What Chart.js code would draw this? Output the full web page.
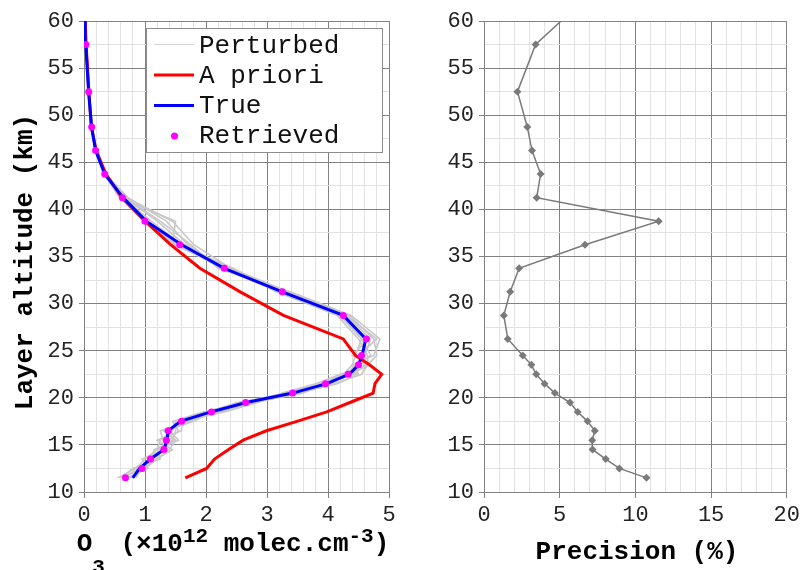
<!DOCTYPE html>
<html><head><meta charset="utf-8">
<script src="https://cdn.jsdelivr.net/npm/chart.js@4.4.1/dist/chart.umd.min.js"></script>
<style>
html,body{margin:0;padding:0;background:#fff;}
#wrap{position:relative;width:804px;height:570px;overflow:hidden;background:#fff;}
#c1{position:absolute;left:0;top:0;}
#c2{position:absolute;left:402px;top:0;}
</style></head><body>
<div id="wrap"><canvas id="c1" width="402" height="570"></canvas><canvas id="c2" width="402" height="570"></canvas></div>
<script>
// Layer altitudes (km), bottom to top; last entry is the top boundary (60 km)
const altitudes = [11.5,12.5,13.5,14.5,15.5,16.5,17.5,18.5,19.5,20.5,21.5,22.5,23.5,24.5,26.25,28.75,31.25,33.75,36.25,38.75,41.25,43.75,46.25,48.75,52.5,57.5,60];
// O3 (x10^12 molec.cm^-3)
const trueO3     = [0.80,0.91,1.09,1.31,1.36,1.38,1.58,2.08,2.66,3.42,3.98,4.35,4.50,4.56,4.62,4.25,3.25,2.30,1.60,1.02,0.64,0.34,0.19,0.125,0.075,0.03,0.02];
const aprioriO3  = [1.66,2.01,2.14,2.37,2.61,2.99,3.49,3.98,4.36,4.74,4.77,4.88,4.68,4.45,4.25,3.27,2.56,1.90,1.42,1.00,0.62,0.36,0.20,0.12,0.08,0.035,0.02];
const retrievedO3 = [0.68,0.95,1.09,1.31,1.35,1.38,1.60,2.09,2.65,3.42,3.96,4.33,4.50,4.55,4.63,4.25,3.25,2.30,1.57,1.00,0.63,0.34,0.19,0.126,0.077,0.03];
const perturbed1 = [0.55,0.85,1.00,1.20,1.25,1.45,1.50,2.00,2.60,3.30,3.90,4.25,4.40,4.45,4.55,4.20,3.20,2.25,1.55,1.00,0.62,0.34,0.19,0.125,0.075,0.03,0.02];
const perturbed2 = [0.75,1.00,1.20,1.40,1.50,1.30,1.70,2.20,2.80,3.55,4.10,4.55,4.65,4.80,4.75,4.35,3.35,2.40,1.80,1.45,0.70,0.35,0.19,0.125,0.075,0.03,0.02];
const perturbed3 = [0.65,0.90,1.15,1.25,1.45,1.50,1.55,2.15,2.70,3.45,3.95,4.40,4.60,4.50,4.80,4.30,3.30,2.35,1.65,1.20,0.66,0.34,0.19,0.125,0.075,0.03,0.02];
const perturbed4 = [0.85,0.95,1.05,1.35,1.30,1.25,1.75,2.00,2.55,3.35,4.05,4.30,4.45,4.70,4.55,4.20,3.20,2.30,1.50,0.98,0.60,0.33,0.19,0.125,0.075,0.03,0.02];
const perturbed5 = [0.60,0.80,1.25,1.20,1.55,1.40,1.65,2.25,2.75,3.60,3.85,4.45,4.55,4.60,4.70,4.30,3.30,2.25,1.70,1.35,0.72,0.35,0.19,0.125,0.075,0.03,0.02];
const perturbed6 = [0.70,1.05,0.95,1.30,1.40,1.55,1.45,1.95,2.65,3.40,4.00,4.35,4.70,4.40,4.65,4.25,3.25,2.40,1.60,1.10,0.64,0.34,0.19,0.125,0.075,0.03,0.02];
const perturbed7 = [0.78,0.88,1.10,1.15,1.50,1.35,1.80,2.10,2.50,3.50,4.15,4.50,4.40,4.75,4.85,4.38,3.38,2.20,1.75,1.25,0.68,0.35,0.19,0.125,0.075,0.03,0.02];
const perturbed8 = [0.58,0.98,1.18,1.45,1.20,1.60,1.60,2.30,2.85,3.25,3.80,4.20,4.65,4.65,4.50,4.15,3.15,2.45,1.45,1.50,0.58,0.33,0.19,0.125,0.075,0.03,0.02];
// Precision (%)
const precision = [10.73,8.94,8.04,7.17,7.15,7.32,6.84,6.19,5.68,4.68,4.00,3.45,3.13,2.56,1.57,1.31,1.73,2.32,6.67,11.54,3.48,3.74,3.17,2.86,2.21,3.41,5.09];
// Axis ticks
const o3Ticks = [0,1,2,3,4,5];
const precisionTicks = [0,5,10,15,20];
const altitudeTicks = [10,15,20,25,30,35,40,45,50,55,60];
const legendLabels = ['Perturbed','A priori','True','Retrieved'];

const FONT = "'Liberation Mono', 'DejaVu Sans Mono', monospace";
const MAJOR = '#828282', MINOR = '#e2e2e2';
const pts = (xs) => xs.map((x,i) => ({x:x, y:altitudes[i]}));
const isIn = (v, arr) => arr.some(a => Math.abs(a - v) < 1e-6);

function xScale(min, max, step, ticksArr) {
  return {
    type:'linear', min:min, max:max,
    ticks:{stepSize:step, autoSkip:false, maxRotation:0, padding:4, color:'#222',
      font:{family:FONT, size:22},
      callback:(v)=> isIn(v,ticksArr) ? String(Math.round(v)) : ''},
    grid:{color:(c)=> isIn(c.tick.value,ticksArr) ? MAJOR : MINOR, lineWidth:1,
      tickLength:6, tickColor:(c)=> isIn(c.tick.value,ticksArr) ? MAJOR : 'rgba(0,0,0,0)'},
    border:{color:MAJOR, width:1},
    afterFit:(s)=>{ s.height = 78; }
  };
}
function yScale(width) {
  return {
    type:'linear', min:10, max:60,
    ticks:{stepSize:2.5, autoSkip:false, padding:5, color:'#222',
      font:{family:FONT, size:22},
      callback:(v)=> isIn(v,altitudeTicks) ? String(Math.round(v)) : ''},
    grid:{color:(c)=> isIn(c.tick.value,altitudeTicks) ? MAJOR : MINOR, lineWidth:1,
      tickLength:5, tickColor:(c)=> isIn(c.tick.value,altitudeTicks) ? MAJOR : 'rgba(0,0,0,0)'},
    border:{color:MAJOR, width:1},
    afterFit:(s)=>{ s.width = width; }
  };
}

function drawRich(ctx, pieces, cx, base) {
  let total = 0;
  pieces.forEach(p => { ctx.font = p.f; p.w = ctx.measureText(p.t).width; total += p.w; });
  let x = cx - total/2;
  ctx.textAlign = 'left'; ctx.textBaseline = 'alphabetic';
  pieces.forEach(p => { ctx.font = p.f; ctx.fillText(p.t, x, base + (p.dy||0)); x += p.w; });
}

const BIG = "bold 26px " + FONT, SMALL = "bold 21px " + FONT;

const leftDecor = {
  id:'leftDecor',
  afterDraw(chart){
    const ctx = chart.ctx; ctx.save();
    // legend
    ctx.fillStyle = '#fff'; ctx.fillRect(146,28,236,124);
    ctx.strokeStyle = '#8c8c8c'; ctx.lineWidth = 1; ctx.strokeRect(146.5,28.5,236,124);
    const rows = [44.5, 75, 105.5, 136];
    const bases = [52.5, 82.5, 112.5, 142.5];
    ctx.lineWidth = 1; ctx.strokeStyle = '#d4d4d4';
    ctx.beginPath(); ctx.moveTo(154,rows[0]); ctx.lineTo(194,rows[0]); ctx.stroke();
    ctx.lineWidth = 3; ctx.strokeStyle = '#ff0000';
    ctx.beginPath(); ctx.moveTo(154,rows[1]); ctx.lineTo(194,rows[1]); ctx.stroke();
    ctx.strokeStyle = '#0000ff';
    ctx.beginPath(); ctx.moveTo(154,rows[2]); ctx.lineTo(194,rows[2]); ctx.stroke();
    ctx.fillStyle = '#ff00ff';
    ctx.beginPath(); ctx.arc(174.5,rows[3],3.5,0,Math.PI*2); ctx.fill();
    ctx.fillStyle = '#111'; ctx.font = "26px " + FONT; ctx.textAlign='left'; ctx.textBaseline='alphabetic';
    legendLabels.forEach((t,i)=> ctx.fillText(t, 199, bases[i]));
    // y title
    ctx.save(); ctx.translate(25, 262); ctx.rotate(-Math.PI/2);
    ctx.font = BIG; ctx.textAlign='center'; ctx.textBaseline='middle'; ctx.fillStyle='#000';
    ctx.fillText('Layer altitude (km)', 0, 0); ctx.restore();
    // x title
    ctx.fillStyle = '#000';
    drawRich(ctx, [
      {t:'O', f:BIG}, {t:'3', f:SMALL, dy:22}, {t:' (×10', f:BIG}, {t:'12', f:SMALL, dy:-9},
      {t:' molec.cm', f:BIG}, {t:'-3', f:SMALL, dy:-9}, {t:')', f:BIG}
    ], 233, 551);
    ctx.restore();
  }
};
const rightDecor = {
  id:'rightDecor',
  afterDraw(chart){
    const ctx = chart.ctx; ctx.save();
    ctx.fillStyle='#000'; ctx.font = BIG; ctx.textAlign='center'; ctx.textBaseline='alphabetic';
    ctx.fillText('Precision (%)', 235, 559);
    ctx.restore();
  }
};

const pertStyle = {showLine:true, borderColor:'#c8c8c8', borderWidth:1.6, pointRadius:0, fill:false};
new Chart(document.getElementById('c1'), {
  type:'scatter',
  data:{datasets:[
    {label:'Retrieved', data:retrievedO3.map((x,i)=>({x:x,y:altitudes[i]})), showLine:false, pointRadius:3.5, pointBackgroundColor:'#ff00ff', pointBorderWidth:0},
    {label:'True', data:pts(trueO3), showLine:true, borderColor:'#0000ff', borderWidth:3, pointRadius:0},
    {label:'A priori', data:pts(aprioriO3), showLine:true, borderColor:'#ff0000', borderWidth:3, pointRadius:0},
    Object.assign({label:'Perturbed', data:pts(perturbed1)}, pertStyle),
    Object.assign({label:'Perturbed 2', data:pts(perturbed2)}, pertStyle),
    Object.assign({label:'Perturbed 3', data:pts(perturbed3)}, pertStyle),
    Object.assign({label:'Perturbed 4', data:pts(perturbed4)}, pertStyle),
    Object.assign({label:'Perturbed 5', data:pts(perturbed5)}, pertStyle),
    Object.assign({label:'Perturbed 6', data:pts(perturbed6)}, pertStyle),
    Object.assign({label:'Perturbed 7', data:pts(perturbed7)}, pertStyle),
    Object.assign({label:'Perturbed 8', data:pts(perturbed8)}, pertStyle)
  ]},
  options:{responsive:false, animation:false, devicePixelRatio:1,
    layout:{padding:{left:0, right:13, top:21, bottom:0}},
    plugins:{legend:{display:false}, tooltip:{enabled:false}},
    scales:{x:xScale(0,5,0.2,o3Ticks), y:yScale(84)}
  },
  plugins:[leftDecor]
});
new Chart(document.getElementById('c2'), {
  type:'scatter',
  data:{datasets:[
    {label:'Precision', data:pts(precision), showLine:true, borderColor:'#7a7a7a', borderWidth:1.5,
     pointStyle:'rectRot', pointRadius:(c)=> c.dataIndex === precision.length-1 ? 0 : 4,
     pointBackgroundColor:'#7a7a7a', pointBorderColor:'#7a7a7a', pointBorderWidth:0}
  ]},
  options:{responsive:false, animation:false, devicePixelRatio:1,
    layout:{padding:{left:0, right:15, top:21, bottom:0}},
    plugins:{legend:{display:false}, tooltip:{enabled:false}},
    scales:{x:xScale(0,20,1,precisionTicks), y:yScale(82)}
  },
  plugins:[rightDecor]
});
</script></body></html>
